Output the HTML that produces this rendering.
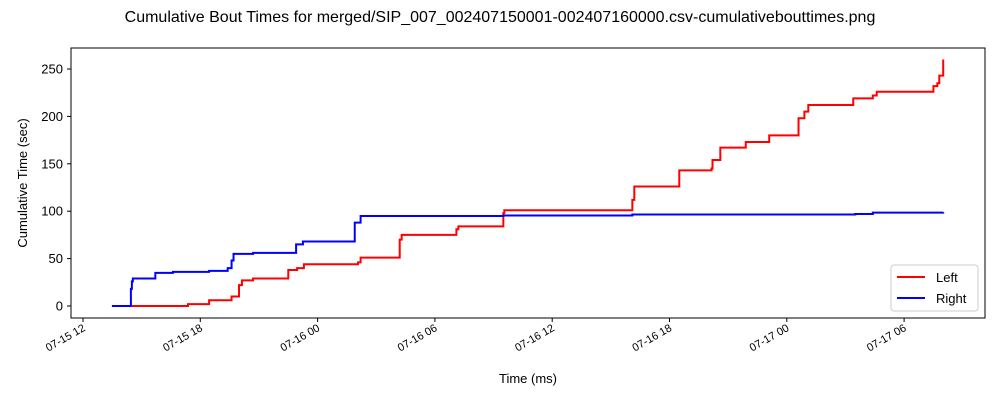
<!DOCTYPE html>
<html><head><meta charset="utf-8"><style>
body{margin:0;background:#fff;font-family:"Liberation Sans","DejaVu Sans",sans-serif}
svg text{font-family:"Liberation Sans","DejaVu Sans",sans-serif}
</style></head><body>
<svg id="chart" width="1000" height="400" xmlns="http://www.w3.org/2000/svg">
<text x="500" y="22" text-anchor="middle" font-size="16">Cumulative Bout Times for merged/SIP_007_002407150001-002407160000.csv-cumulativebouttimes.png</text>
<g id="plot"></g>
<rect x="71" y="48" width="914" height="270" fill="none" stroke="#000" stroke-width="1"/>
<text x="528" y="383" text-anchor="middle" font-size="13">Time (ms)</text>
<text transform="translate(27,183) rotate(-90)" text-anchor="middle" font-size="13">Cumulative Time (sec)</text>
<g>
<rect x="891" y="265" width="87" height="46" rx="3" fill="#fff" stroke="#ccc"/>
<line x1="897" y1="277" x2="925" y2="277" stroke="red" stroke-width="2"/>
<text x="936" y="282" font-size="13">Left</text>
<line x1="897" y1="298" x2="925" y2="298" stroke="blue" stroke-width="2"/>
<text x="936" y="303" font-size="13">Right</text>
</g>
</svg>
<script>
// hours since 07-15 12:00
const leftHours=[1.48,5.37,6.45,7.6,7.98,8.13,8.7,10.5,10.95,11.3,14.07,14.2,16.2,16.3,19.1,19.2,21.5,21.55,28.1,28.2,30.5,32.15,32.2,32.6,33.9,35.1,36.6,36.9,37.1,39.4,40.4,40.6,43.5,43.7,43.8,44.0];
const leftValues=[0,2,6,10,22,27,29,38,40,44,46,51,70,75,81,84,98,101,112,126,143,145,154,167,173,180,198,205,212,219,222,226,232,235,243,260];
const rightHours=[1.48,2.45,2.5,2.55,3.7,4.6,6.45,7.4,7.6,7.7,8.7,10.9,11.25,13.9,14.2,21.5,28.1,39.5,40.4,44.0];
const rightValues=[0,18,26,29,35,36,37,40,48,55,56,65,68,88,95,95.5,96.5,97,98.5,99];
const xTickLabels=["07-15 12","07-15 18","07-16 00","07-16 06","07-16 12","07-16 18","07-17 00","07-17 06"];
const xTickHours=[0,6,12,18,24,30,36,42];
const yTicks=[0,50,100,150,200,250];
const endHour=44.0;
const X=h=>83+h*19.55;
const Y=v=>306-v*0.948;
const NS="http://www.w3.org/2000/svg";
const g=document.getElementById('plot');
function mk(t,a){const e=document.createElementNS(NS,t);for(const k in a)e.setAttribute(k,a[k]);g.appendChild(e);return e;}
yTicks.forEach(v=>{
 const l=mk('line',{x1:67,x2:71,y1:Y(v),y2:Y(v),stroke:'#000'});
 
 
 const t=mk('text',{x:63,y:Y(v)+4.5,'text-anchor':'end','font-size':13});
 
 
 t.textContent=v;
});
xTickHours.forEach((h,i)=>{
 const x=X(h);
 const l=mk('line',{x1:x,x2:x,y1:318,y2:322,stroke:'#000'});
 
 
 const t=mk('text',{x:0,y:0,'text-anchor':'end','font-size':11,transform:`translate(${x+3},${330}) rotate(-30)`});
 
 
 t.textContent=xTickLabels[i];
});
function stepPath(hs,vs){
 let d=`M${X(hs[0])},${Y(vs[0])}`;
 for(let i=1;i<hs.length;i++){d+=`H${X(hs[i])}V${Y(vs[i])}`;}
 d+=`H${X(endHour)}`;
 return d;
}
const pl=mk('path',{d:stepPath(leftHours,leftValues),fill:'none',stroke:'red','stroke-width':2});


const pr=mk('path',{d:stepPath(rightHours,rightValues),fill:'none',stroke:'blue','stroke-width':2});


</script>
</body></html>
